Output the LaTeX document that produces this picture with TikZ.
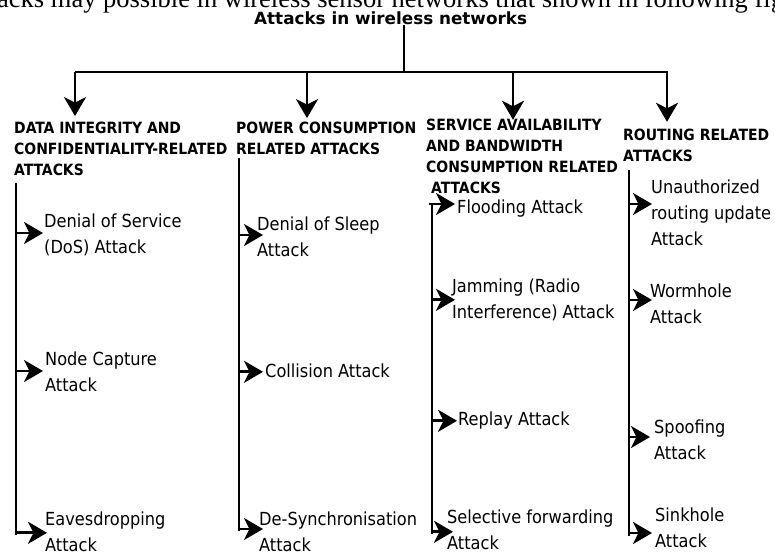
\documentclass[tikz,border=0pt]{standalone}
\usepackage{fontspec}
\usetikzlibrary{arrows.meta}
\newfontfamily\condfont{DejaVu Sans Condensed}
\newfontfamily\titlefontfam{DejaVu Sans}
\newfontfamily\introfont{Liberation Serif}
\newcommand{\tl}[1]{\begin{tabular}[t]{@{}l@{}}#1\end{tabular}}
\tikzset{
  ln/.style={line width=2.8pt, line cap=butt},
  arr/.style={ln, -{Stealth[length=19pt,width=22pt,inset=5.5pt]}},
  item/.style={anchor=base west, inner sep=0pt, font=\condfont\fontsize{18}{26}\selectfont},
  head/.style={anchor=base west, inner sep=0pt, font=\condfont\bfseries\fontsize{15.5}{21}\selectfont},
  ttl/.style={anchor=base west, inner sep=0pt, font=\titlefontfam\bfseries\fontsize{16.8}{20}\selectfont},
  intro/.style={anchor=base west, inner sep=0pt, font=\introfont\fontsize{26.5}{30}\selectfont},
}
\begin{document}
\begin{tikzpicture}[x=1pt,y=-1pt]
\useasboundingbox (0,0) rectangle (775,551);
\clip (0,0) rectangle (775,551);
\fill[white] (0,0) rectangle (775,551);

% texts
\node[intro] (intro) at (-3,8) {acks may possible in wireless sensor networks that shown in following fig};
\node[ttl] (title) at (254,25) {Attacks in wireless networks};

\node[head] (h1) at (14,133) {\tl{DATA INTEGRITY AND\\CONFIDENTIALITY-RELATED\\ATTACKS}};
\node[head] (h2) at (236,133) {\tl{POWER CONSUMPTION\\RELATED ATTACKS}};
\node[head] (h3) at (426,130) {\tl{SERVICE AVAILABILITY\\AND BANDWIDTH\\CONSUMPTION RELATED\\\hspace{5pt}ATTACKS}};
\node[head] (h4) at (623,140) {\tl{ROUTING RELATED\\ATTACKS}};

\node[item] (d1) at (44,227) {\tl{Denial of Service\\(DoS) Attack}};
\node[item] (d2) at (45,365) {\tl{Node Capture\\Attack}};
\node[item] (d3) at (45,525) {\tl{Eavesdropping\\Attack}};
\node[item] (p1) at (257,230) {\tl{Denial of Sleep\\Attack}};
\node[item] (p2) at (265,377) {\tl{Collision Attack}};
\node[item] (p3) at (259,525) {\tl{De-Synchronisation\\Attack}};
\node[item] (s1) at (457,213) {\tl{Flooding Attack}};
\node[item] (s2) at (452,292) {\tl{Jamming (Radio\\Interference) Attack}};
\node[item] (s3) at (458,425) {\tl{Replay Attack}};
\node[item] (s4) at (447,523) {\tl{Selective forwarding\\Attack}};
\node[item] (r1) at (651,193) {\tl{Unauthorized\\routing update\\Attack}};
\node[item] (r2) at (650,297) {\tl{Wormhole\\Attack}};
\node[item] (r3) at (654,433) {\tl{Spoofing\\Attack}};
\node[item] (r4) at (655,521) {\tl{Sinkhole\\Attack}};

% trunk
\coordinate (j) at (404,72);
\coordinate (tl) at (75,72);
\coordinate (tr) at (668,72);
\coordinate (t1) at (75,72);
\coordinate (t2) at (307,72);
\coordinate (t3) at (513,72);
\coordinate (t4) at (667,72);
\draw[ln] (title.south -| j) -- (j);
\draw[ln] (tl) -- (tr);
\coordinate (h1t) at ([yshift=2pt]h1.north);
\coordinate (h2t) at (h2.north);
\coordinate (h3t) at ([yshift=-4.7pt]h3.north);
\coordinate (h4t) at ([yshift=3.3pt]h4.north);
\draw[arr] (t1) -- (h1t -| t1);
\draw[arr] (t2) -- (h2t -| t2);
\draw[arr] (t3) -- (h3t -| t3);
\draw[arr] (t4) -- (h4t -| t4);

% spines
\coordinate (v1) at (16,183);  \coordinate (w1) at (16,535);
\coordinate (v2) at (239,158); \coordinate (w2) at (239,531);
\coordinate (v3) at (432,205); \coordinate (w3) at (432,534);
\coordinate (v4) at (629,170); \coordinate (w4) at (629,536);
\coordinate (v3l) at (429,205);
\draw[ln] (v1) -- (w1);
\draw[ln] (v2) -- (w2);
\draw[ln] (v3) -- (w3);
\draw[ln] (v4) -- (w4);

% branch tips
\coordinate (d1a) at ([xshift=-1pt,yshift=1.8pt]d1.west);
\coordinate (d2a) at ([xshift=-2pt,yshift=1.8pt]d2.west);
\coordinate (d3a) at ([xshift=2pt]d3.west);
\coordinate (p1a) at ([xshift=6pt,yshift=2.8pt]p1.west);
\coordinate (p2a) at ([xshift=-2pt]p2.west);
\coordinate (p3a) at ([xshift=4pt,yshift=3.8pt]p3.west);
\coordinate (s1a) at ([xshift=-2pt,yshift=3.8pt]s1.west);
\coordinate (s2a) at ([xshift=3pt]s2.west);
\coordinate (s3a) at ([xshift=-1pt,yshift=-1pt]s3.west);
\coordinate (s4a) at ([xshift=6pt,yshift=-1pt]s4.west);
\coordinate (r1a) at ([xshift=1pt,yshift=9.8pt]r1.west);
\coordinate (r2a) at ([xshift=2pt,yshift=4.8pt]r2.west);
\coordinate (r3a) at ([xshift=-4pt,yshift=3.8pt]r3.west);
\coordinate (r4a) at ([xshift=-3pt,yshift=-4.2pt]r4.west);

\draw[arr] (d1a -| v1) -- (d1a);
\draw[arr] (d2a -| v1) -- (d2a);
\draw[arr] (d3a -| v1) -- (d3a);
\draw[arr] (p1a -| v2) -- (p1a);
\draw[arr] (p2a -| v2) -- (p2a);
\draw[arr] (p3a -| v2) -- (p3a);
\draw[arr] (s1a -| v3l) -- (s1a);
\draw[arr] (s2a -| v3) -- (s2a);
\draw[arr] (s3a -| v3) -- (s3a);
\draw[arr] (s4a -| v3) -- (s4a);
\draw[arr] (r1a -| v4) -- (r1a);
\draw[arr] (r2a -| v4) -- (r2a);
\draw[arr] (r3a -| v4) -- (r3a);
\draw[arr] (r4a -| v4) -- (r4a);
\end{tikzpicture}
\end{document}
